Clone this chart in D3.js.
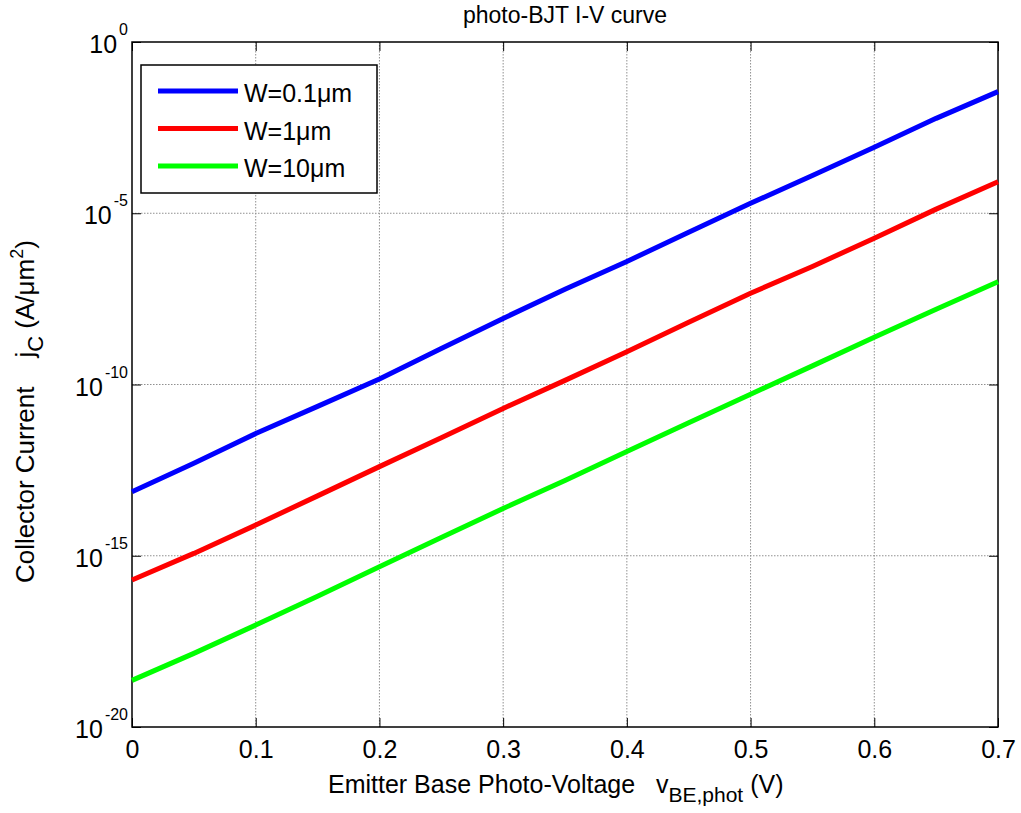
<!DOCTYPE html>
<html>
<head>
<meta charset="utf-8">
<script src="https://cdn.jsdelivr.net/npm/d3@7"></script>
<style>
body { margin: 0; background: #fff; }
svg text { font-family: "Liberation Sans", Arial, sans-serif; fill: #000; white-space: pre; }
</style>
</head>
<body>
<svg id="chart" width="1021" height="813"></svg>
<script>
// photo-BJT I-V curve data
var voltage = [0, 0.05, 0.1, 0.15, 0.2, 0.25, 0.3, 0.35, 0.4, 0.45, 0.5, 0.55, 0.6, 0.65, 0.7];
var jW01 = [7.4e-14, 5.0e-13, 3.7e-12, 2.3e-11, 1.45e-10, 1.12e-9, 8.5e-9, 6.0e-8, 3.9e-7, 2.8e-6, 1.95e-5, 1.26e-4, 8.5e-4, 5.9e-3, 3.55e-2];
var jW1 = [1.95e-16, 1.17e-15, 7.9e-15, 5.6e-14, 4.0e-13, 2.8e-12, 2.0e-11, 1.32e-10, 9.1e-10, 6.6e-9, 4.6e-8, 2.8e-7, 1.86e-6, 1.32e-5, 8.3e-5];
var jW10 = [2.3e-19, 1.41e-18, 9.5e-18, 6.6e-17, 4.8e-16, 3.4e-15, 2.4e-14, 1.58e-13, 1.10e-12, 7.6e-12, 5.2e-11, 3.5e-10, 2.4e-9, 1.58e-8, 1.0e-7];
var seriesNames = ["W=0.1\u03bcm", "W=1\u03bcm", "W=10\u03bcm"];
var seriesColors = ["#0000ff", "#ff0000", "#00ff00"];
var xTicks = [0, 0.1, 0.2, 0.3, 0.4, 0.5, 0.6, 0.7];
var yTickExp = [-20, -15, -10, -5, 0];

var svg = d3.select("#chart");
var pLeft = 132, pRight = 998, pTop = 42, pBottom = 727;

var x = d3.scaleLinear().domain([0, 0.7]).range([pLeft, pRight]);
var y = d3.scaleLog().domain([1e-20, 1]).range([pBottom, pTop]);

// grid
var grid = svg.append("g")
	.attr("stroke", "#909090")
	.attr("stroke-width", 1)
	.attr("stroke-dasharray", "1.5,1.5");
grid.selectAll("line.gx")
	.data(xTicks.slice(1, -1))
	.enter().append("line")
	.attr("x1", function(d) {return x(d);})
	.attr("x2", function(d) {return x(d);})
	.attr("y1", pTop).attr("y2", pBottom);
grid.selectAll("line.gy")
	.data(yTickExp.slice(1, -1))
	.enter().append("line")
	.attr("y1", function(d) {return y(Math.pow(10, d));})
	.attr("y2", function(d) {return y(Math.pow(10, d));})
	.attr("x1", pLeft).attr("x2", pRight);

// axes (ticks inside, box on)
var tickLen = 9;
svg.append("g")
	.attr("transform", "translate(0," + pBottom + ")")
	.call(d3.axisBottom(x).tickValues(xTicks).tickSize(-tickLen).tickPadding(13)
		.tickFormat(function(d) {return d === 0 ? "0" : d3.format(".1f")(d);}))
	.call(function(g) {
		g.select(".domain").remove();
		g.selectAll("text").style("font-size", "25px");
	});
svg.append("g")
	.attr("transform", "translate(0," + pTop + ")")
	.call(d3.axisTop(x).tickValues(xTicks).tickSize(-tickLen).tickFormat(""))
	.call(function(g) {g.select(".domain").remove();});

var yVals = yTickExp.map(function(e) {return Math.pow(10, e);});
svg.append("g")
	.attr("transform", "translate(" + pLeft + ",0)")
	.call(d3.axisLeft(y).tickValues(yVals).tickSize(-tickLen).tickFormat(""))
	.call(function(g) {g.select(".domain").remove();});
svg.append("g")
	.attr("transform", "translate(" + pRight + ",0)")
	.call(d3.axisRight(y).tickValues(yVals).tickSize(-tickLen).tickFormat(""))
	.call(function(g) {g.select(".domain").remove();});

// y tick labels 10^n
var yl = svg.append("g").selectAll("text")
	.data(yTickExp)
	.enter().append("text")
	.attr("text-anchor", "end")
	.attr("x", pLeft - 4)
	.attr("y", function(d) {return y(Math.pow(10, d)) + 11;})
	.style("font-size", "25px");
yl.append("tspan").text("10");
yl.append("tspan").attr("dx", 2).attr("dy", -18).style("font-size", "16px").text(function(d) {return d;});

svg.append("rect")
	.attr("x", pLeft).attr("y", pTop)
	.attr("width", pRight - pLeft).attr("height", pBottom - pTop)
	.attr("fill", "none").attr("stroke", "#000").attr("stroke-width", 1.5);

// curves
var line = d3.line()
	.x(function(d) {return x(d[0]);})
	.y(function(d) {return y(d[1]);});
var allSeries = [jW01, jW1, jW10];
svg.append("g").selectAll("path")
	.data(allSeries)
	.enter().append("path")
	.attr("d", function(s) {return line(voltage.map(function(v, i) {return [v, s[i]];}));})
	.attr("fill", "none")
	.attr("stroke", function(d, i) {return seriesColors[i];})
	.attr("stroke-width", 5)
	.attr("stroke-linejoin", "round");

// legend
var lg = svg.append("g");
lg.append("rect")
	.attr("x", 141).attr("y", 65).attr("width", 236).attr("height", 128)
	.attr("fill", "#fff").attr("stroke", "#000").attr("stroke-width", 1.5);
var items = lg.selectAll("g.item")
	.data(seriesNames)
	.enter().append("g")
	.attr("transform", function(d, i) {return "translate(0," + (91 + i * 37.5) + ")";});
items.append("line")
	.attr("x1", 158).attr("x2", 238)
	.attr("stroke", function(d, i) {return seriesColors[i];})
	.attr("stroke-width", 5);
items.append("text")
	.attr("x", 244).attr("y", 11)
	.style("font-size", "25px")
	.text(function(d) {return d;});

// title and axis labels
svg.append("text")
	.attr("x", (pLeft + pRight) / 2).attr("y", 23)
	.attr("text-anchor", "middle")
	.style("font-size", "23px")
	.text("photo-BJT I-V curve");

var xl = svg.append("text")
	.attr("x", 328).attr("y", 793)
	.style("font-size", "25px");
xl.append("tspan").text("Emitter Base Photo-Voltage   v");
xl.append("tspan").attr("dy", 9).style("font-size", "21px").text("BE,phot");
xl.append("tspan").attr("dy", -9).text(" (V)");

var ylab = svg.append("text")
	.attr("transform", "translate(34," + 583 + ") rotate(-90)")
	.style("font-size", "26px");
ylab.append("tspan").text("Collector Current    j");
ylab.append("tspan").attr("dy", 9).style("font-size", "22px").text("C");
ylab.append("tspan").attr("dy", -9).text(" (A/\u03bcm");
ylab.append("tspan").attr("dy", -11).style("font-size", "18px").text("2");
ylab.append("tspan").attr("dy", 11).text(")");
</script>
</body>
</html>
